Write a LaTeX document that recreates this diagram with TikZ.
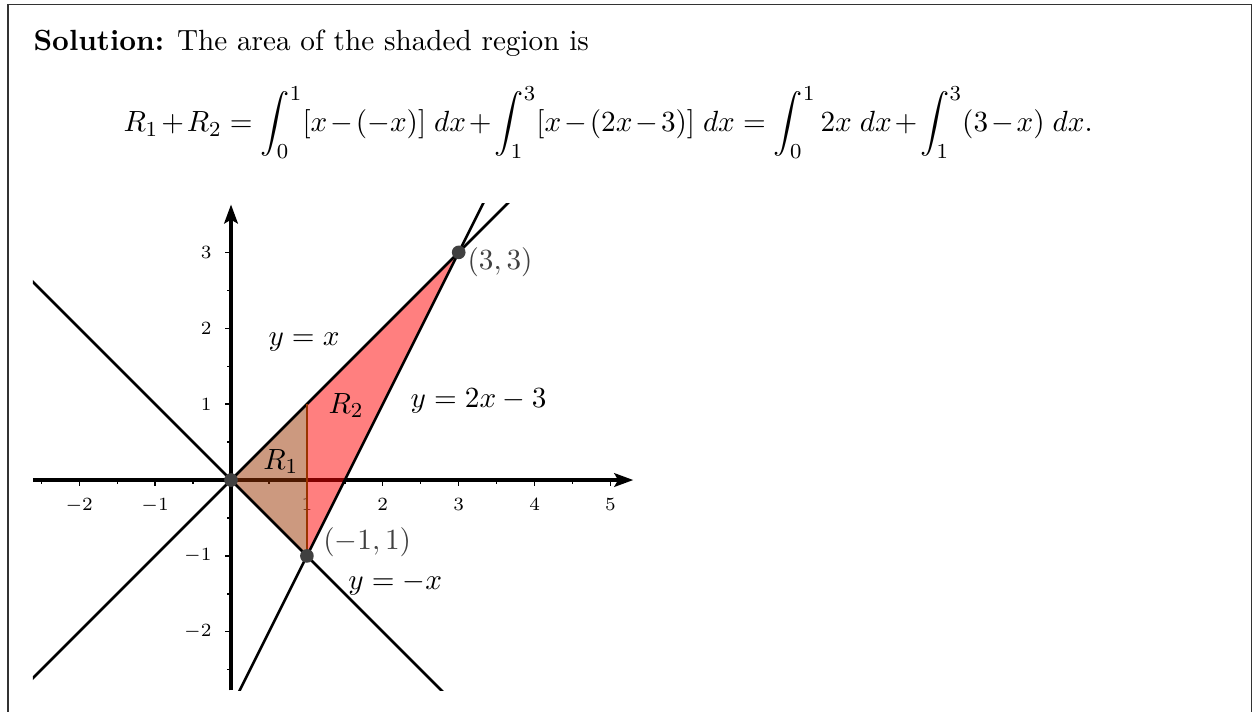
\documentclass[tikz,border=0pt,11pt]{standalone}
\usepackage{amsmath}
\usetikzlibrary{arrows.meta,positioning}
\definecolor{dotgray}{RGB}{64,64,64}
\definecolor{rust}{RGB}{153,51,0}
\definecolor{regred}{RGB}{255,0,0}
\tikzset{
  >={Stealth[length=2.5mm,width=1.8mm,inset=0.5mm]},
  axis/.style={->,line width=1.2pt,black},
  fn/.style={line width=1pt,black},
  tickmark/.style={line width=0.5pt,black},
  ticklbl/.style={font=\fontsize{7}{8.5}\selectfont,inner sep=0pt},
  dot/.style={circle,fill=dotgray,inner sep=0pt,minimum size=1.8mm},
  lbl/.style={anchor=base west,inner sep=0pt},
  ptlbl/.style={lbl,text=dotgray},
  region/.style={fill=#1,fill opacity=0.5},
  region/.default=regred,
}

\begin{document}
\begin{tikzpicture}
  \useasboundingbox (-3.044,-3.044) rectangle (13.466,6.325);
  % box round the solution
  \draw[line width=0.4pt,black!80] (-2.939,-3.2) -- (-2.939,6.266) -- (13.44,6.266) -- (13.44,-3.2);
  \node[lbl] (head) at (-2.609,5.657) {\textbf{Solution:} The area of the shaded region is};
  \node[lbl] (eqn) at (-1.423,4.590) {\hbox to 12.77cm{$\displaystyle R_1+R_2=\int_0^1[x-(-x)]\ dx+\int_1^3[x-(2x-3)]\ dx=\int_0^1 2x\ dx+\int_1^3(3-x)\ dx.$}};
  % axes and ticks
  \draw[axis] (-2.61,0) -- (5.3,0);
  \draw[axis] (0,-2.77) -- (0,3.63);
  \foreach \x [count=\i] in {-2,-1,1,2,3,4,5}{
    \draw[tickmark] (\x,0) -- (\x,-0.08);
    \node[ticklbl,anchor=base] (xt\i) at (\x,-0.40) {$\x$};
  }
  \foreach \x in {-2.5,-1.5,-0.5,0.5,1.5,2.5,3.5,4.5}
    \draw[tickmark] (\x,0) -- (\x,-0.05);
  \foreach \y [count=\i] in {-2,-1,1,2,3}{
    \draw[tickmark] (0,\y) -- (-0.08,\y);
    \node[ticklbl,anchor=east] (yt\i) at (-0.25,\y) {$\y$};
  }
  \foreach \y in {-2.5,-1.5,-0.5,0.5,1.5,2.5}
    \draw[tickmark] (0,\y) -- (-0.05,\y);
  % regions
  \coordinate (O) at (0,0);
  \coordinate (A) at (1,1);
  \coordinate (B) at (1,-1);
  \coordinate (C) at (3,3);
  \fill[region=rust] (O) -- (A) -- (B) -- cycle;
  \fill[region] (A) -- (C) -- (B) -- cycle;
  % the three lines
  \begin{scope}
    \clip (-2.61,-2.77) rectangle (5.3,3.65);
    \draw[fn] (-3,-3) -- (4,4);
    \draw[fn] (-3,3) -- (4,-4);
    \draw[fn] (0,-3) -- (3.5,4);
  \end{scope}
  \draw[line width=1pt,rust] (B) -- (A);
  \node[dot] (pO) at (O) {};
  \node[dot] (pB) at (B) {};
  \node[dot] (pC) at (C) {};
  \node[ptlbl] (lC) at (3.11,2.78) {$(3,3)$};
  \node[ptlbl] (lB) at (1.21,-0.92) {$(-1,1)$};
  \node[lbl] (l1) at (0.487,1.779) {$y=x$};
  \node[lbl] (l2) at (2.36,0.95) {$y=2x-3$};
  \node[lbl] (l3) at (1.54,-1.44) {$y=-x$};
  \node[lbl] (r1) at (0.42,0.145) {$R_1$};
  \node[lbl] (r2) at (1.28,0.88) {$R_2$};
\end{tikzpicture}
\end{document}
